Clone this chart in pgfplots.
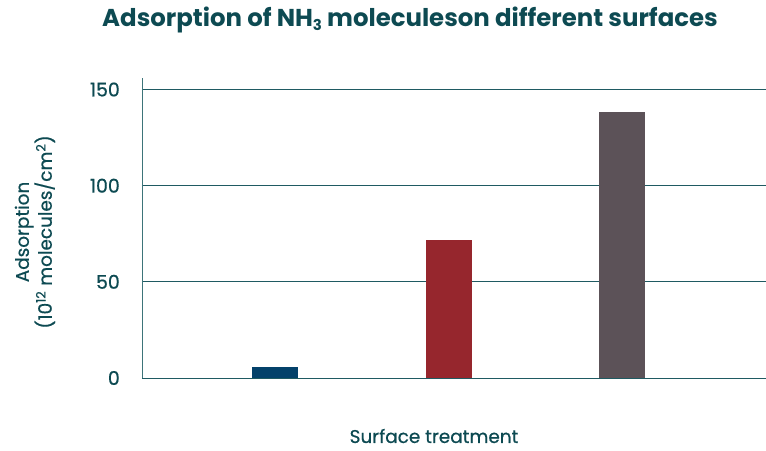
\documentclass[border=0pt]{standalone}
\usepackage{fontspec}
\setmainfont{Poppins}
\newfontfamily\medfont{Poppins}[FakeBold=0.6]
\usepackage{pgfplots}
\pgfplotsset{compat=1.18}
\definecolor{titleteal}{HTML}{0D4A52}
\definecolor{gridteal}{HTML}{1F5A62}
\definecolor{axisteal}{HTML}{3D7479}
\definecolor{barblue}{HTML}{03416A}
\definecolor{barred}{HTML}{96262D}
\definecolor{bargrey}{HTML}{5C5258}

\begin{document}
\begin{tikzpicture}[x=1bp,y=1bp]
  % picture frame: 766 x 451 px, axis box from (142,78) to (766,378)
  \useasboundingbox (-142,-73) rectangle (624,378);
  \begin{axis}[at={(0,0)},anchor=south west,scale only axis,
    width=624bp,height=300bp,
    xmin=-0.767,xmax=2.83,ymin=0,ymax=156,
    ytick={0,50,100,150},xtick=\empty,
    ymajorgrids,grid style={gridteal,line width=0.9pt},
    axis x line=none,axis y line=left,
    axis line style={-,axisteal,line width=0.9pt},
    major tick length=0pt,
    /pgf/number format/assume math mode=true,
    yticklabel style={font=\medfont\fontsize{19}{22}\selectfont,text=titleteal,inner sep=0pt,anchor=east,xshift=-22bp},
    ybar,bar width=46bp,clip=false]
    \addplot[fill=barblue,draw=none,bar shift=0pt] coordinates {(0,5.8)};
    \addplot[fill=barred,draw=none,bar shift=0pt] coordinates {(1,72)};
    \addplot[fill=bargrey,draw=none,bar shift=0pt] coordinates {(2,138.5)};
  \end{axis}
  \node[font=\bfseries\fontsize{24.5}{28}\selectfont,text=titleteal] at (268,358) {Adsorption of NH\raisebox{-0.3ex}{\fontsize{15}{15}\selectfont 3} moleculeson different surfaces};
  \node[font=\medfont\fontsize{18.5}{22}\selectfont,text=titleteal] at (292,-58) {Surface treatment};
  \node[font=\medfont\fontsize{18.5}{23}\selectfont,text=titleteal,rotate=90,align=center] at (-107,146) {Adsorption\\(10\textsuperscript{12} molecules/cm\textsuperscript{2})};
\end{tikzpicture}
\end{document}
